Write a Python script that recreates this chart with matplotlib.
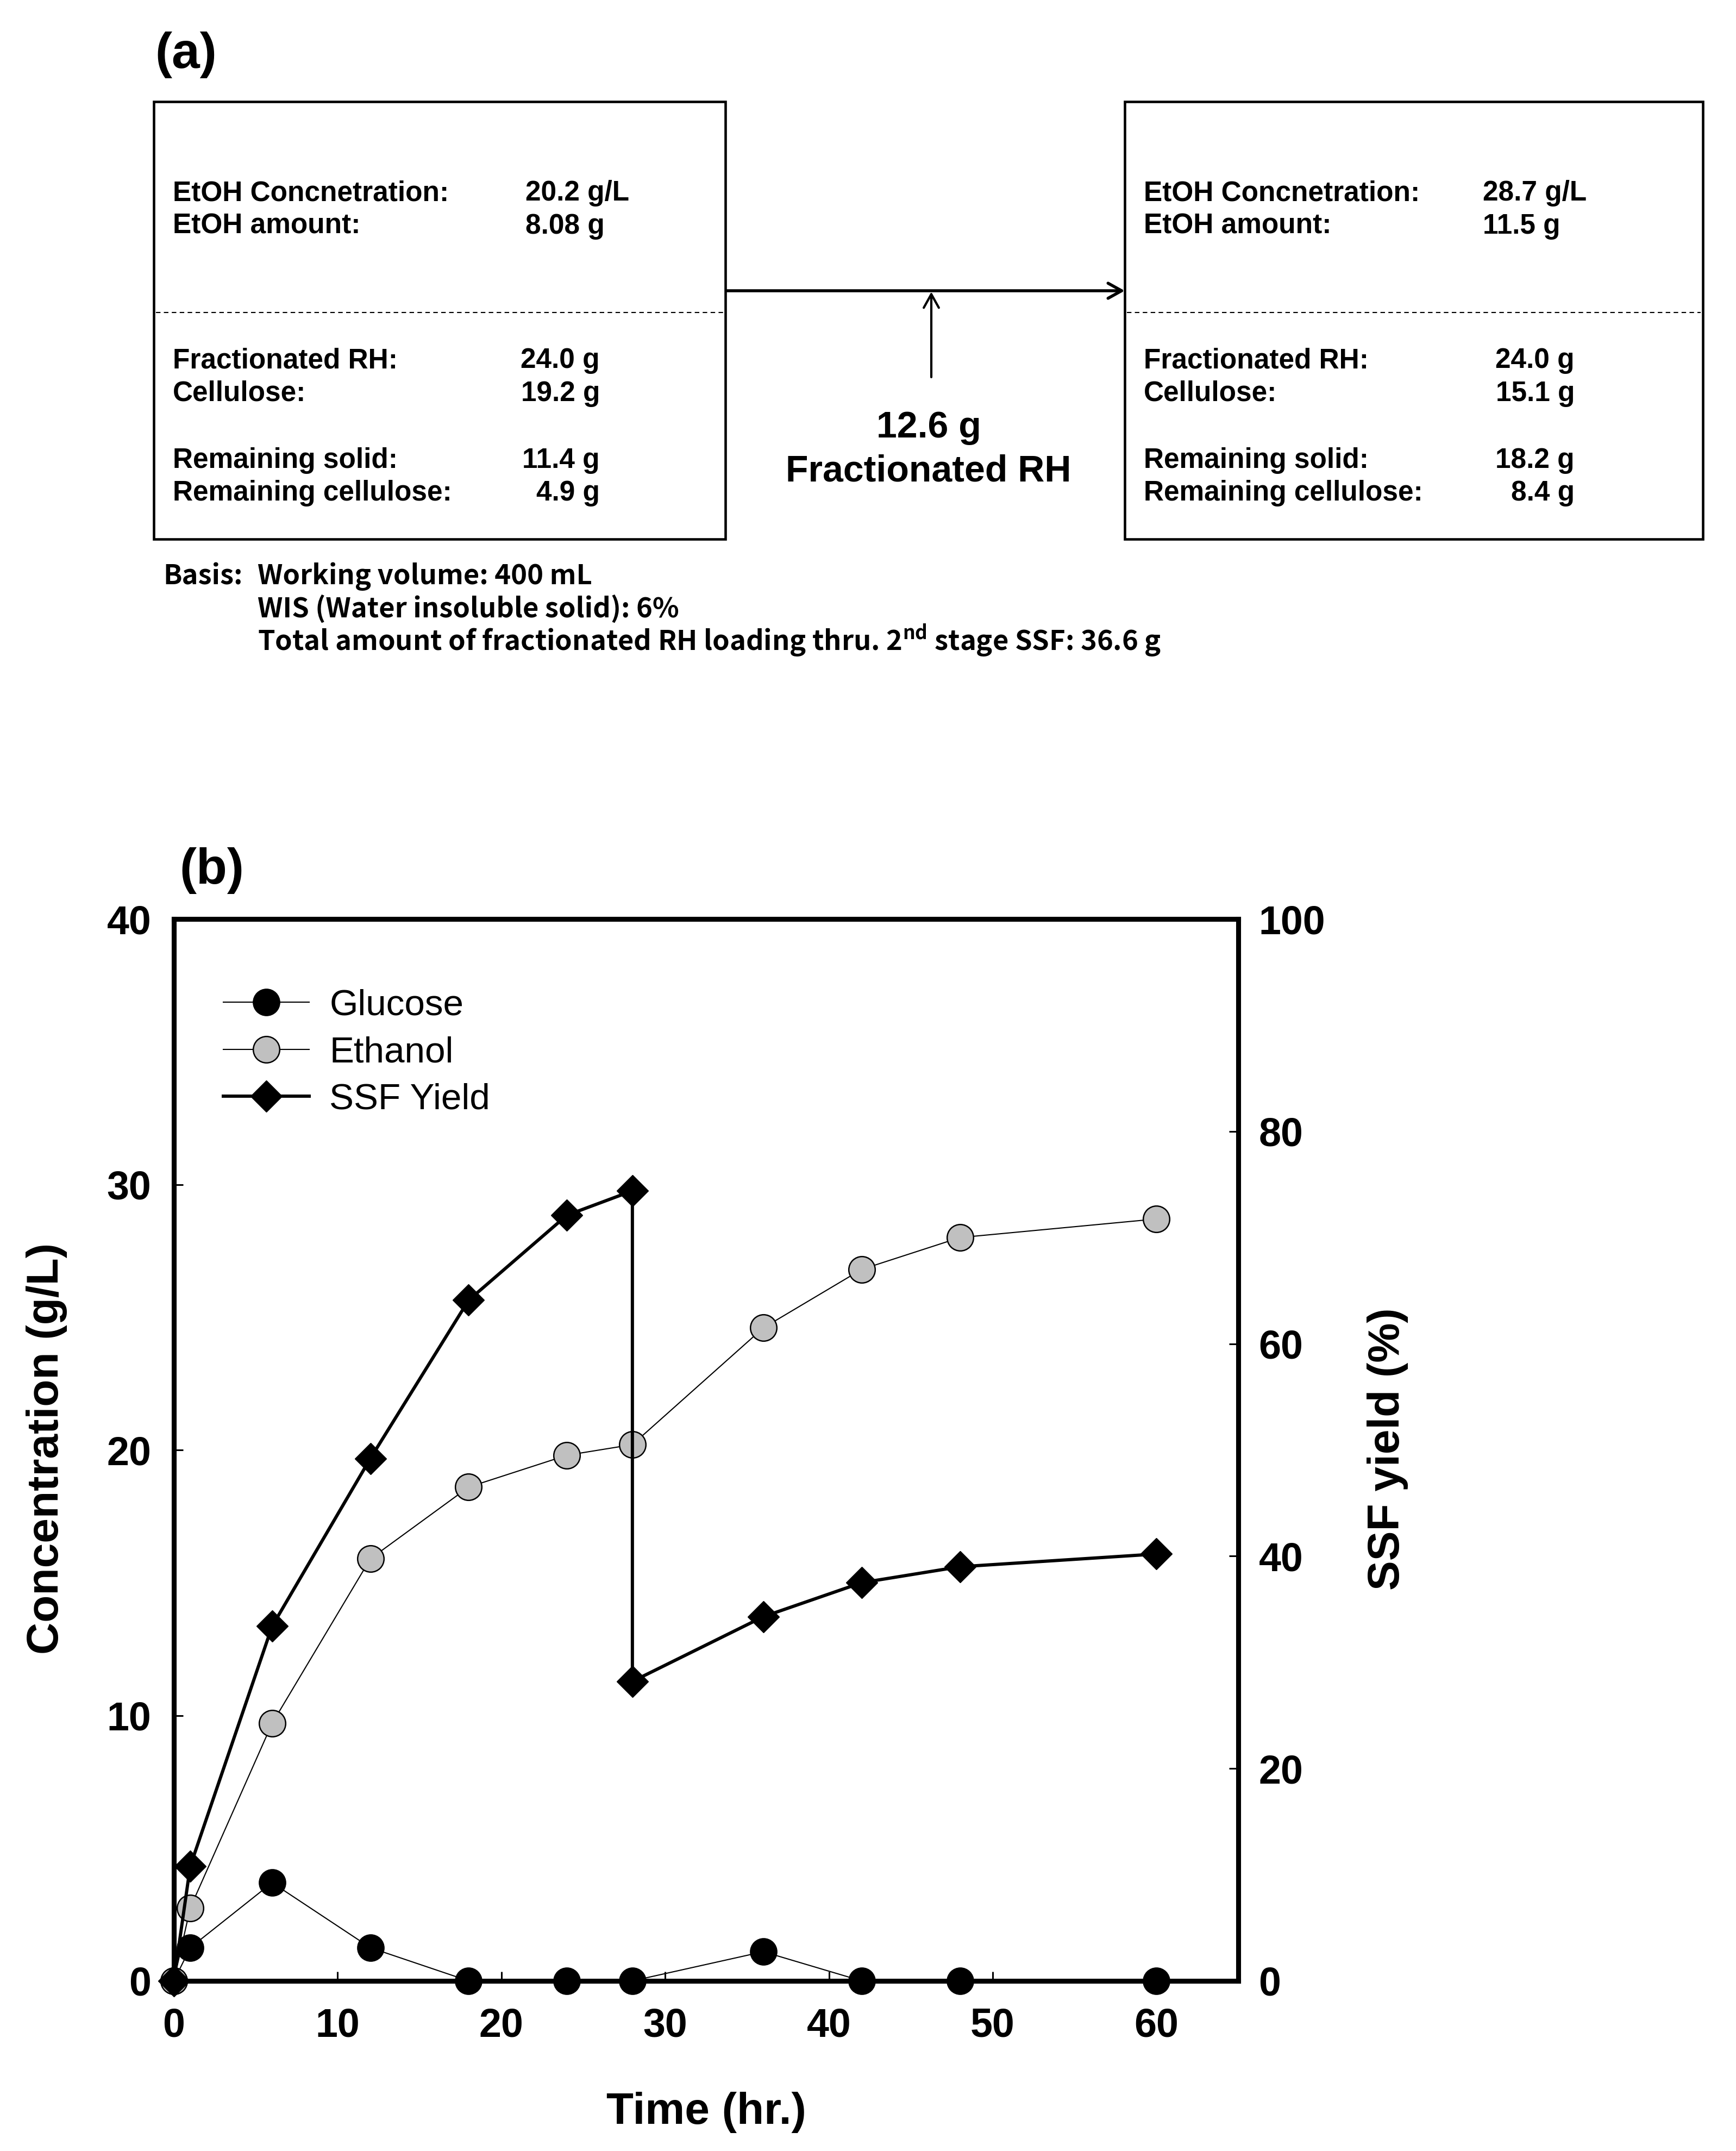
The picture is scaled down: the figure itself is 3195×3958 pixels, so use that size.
import matplotlib
matplotlib.use('Agg')
import matplotlib.pyplot as plt
from matplotlib.patches import Rectangle

plt.rcParams['font.family'] = ['Liberation Sans', 'DejaVu Sans']
plt.rcParams['font.weight'] = 'bold'
plt.rcParams['mathtext.fontset'] = 'custom'
plt.rcParams['mathtext.rm'] = 'Noto Sans CJK KR:bold'
plt.rcParams['mathtext.bf'] = 'Noto Sans CJK KR:bold'

# ---- panel (a) contents
stage_labels = ['EtOH Concnetration:', 'EtOH amount:', 'Fractionated RH:', 'Cellulose:',
                'Remaining solid:', 'Remaining cellulose:']
stage1_values = ['20.2 g/L', '8.08 g', '24.0 g', '19.2 g', '11.4 g', '4.9 g']
stage2_values = ['28.7 g/L', '11.5 g', '24.0 g', '15.1 g', '18.2 g', '8.4 g']
feed_text = ['12.6 g', 'Fractionated RH']
basis_head = 'Basis:'
basis_lines = ['Working volume: 400 mL',
               'WIS (Water insoluble solid): 6%',
               r'Total amount of fractionated RH loading thru. 2$^{\mathrm{nd}}$ stage SSF: 36.6 g']

# ---- panel (b) data
time = [0, 1, 6, 12, 18, 24, 28, 36, 42, 48, 60]
glucose = [0, 1.25, 3.7, 1.25, 0, 0, 0, 1.1, 0, 0, 0]
ethanol = [0, 2.75, 9.7, 15.9, 18.6, 19.8, 20.2, 24.6, 26.8, 28.0, 28.7]
yield_time = [0, 1, 6, 12, 18, 24, 28, 28, 36, 42, 48, 60]
ssf_yield = [0, 10.8, 33.4, 49.2, 64.1, 72.1, 74.4, 28.2, 34.3, 37.5, 39.0, 40.2]
x_ticks = [0, 10, 20, 30, 40, 50, 60]
conc_ticks = [0, 10, 20, 30, 40]
yield_ticks = [0, 20, 40, 60, 80, 100]

W, H = 3195, 3958
fig = plt.figure(figsize=(W / 100, H / 100), dpi=100)

# overlay in pixel coords for the flow diagram
ax0 = fig.add_axes([0, 0, 1, 1])
ax0.set_xlim(0, W)
ax0.set_ylim(H, 0)
ax0.axis('off')

box_lw = 3.3
row_base = [369, 430, 677, 738, 861, 921]
for (x0, x1, col_up, col_low), vals in zip([(283, 1335, 967, 1104), (2070, 3134, 2729, 2898)],
                                          [stage1_values, stage2_values]):
    ax0.add_patch(Rectangle((x0, 187), x1 - x0, 992 - 187, fill=False, lw=box_lw, ec='black'))
    ax0.plot([x0 + 4, x1 - 4], [575, 575], color='black', lw=1.5, ls=(0, (4, 3)))
    for i, (lab, val) in enumerate(zip(stage_labels, vals)):
        ax0.text(x0 + 35, row_base[i], lab, fontsize=37, va='baseline', ha='left')
        if i < 2:
            ax0.text(col_up, row_base[i], val, fontsize=37, va='baseline', ha='left')
        else:
            ax0.text(col_low, row_base[i], val, fontsize=37, va='baseline', ha='right')

ax0.annotate('', xy=(2070, 535), xytext=(1338, 535),
             arrowprops=dict(arrowstyle='->,head_length=0.45,head_width=0.25', lw=4,
                             color='black', shrinkA=0, shrinkB=0, mutation_scale=40))
ax0.annotate('', xy=(1714, 537), xytext=(1714, 694),
             arrowprops=dict(arrowstyle='->,head_length=0.45,head_width=0.25', lw=3,
                             color='black', shrinkA=0, shrinkB=0, mutation_scale=40))
ax0.text(1709, 805, feed_text[0], fontsize=49, ha='center', va='baseline')
ax0.text(1709, 886, feed_text[1], fontsize=49, ha='center', va='baseline')

ax0.text(300, 1075, basis_head, fontsize=36.5, family='Noto Sans CJK KR', va='baseline')
for i, line in enumerate(basis_lines):
    ax0.text(474, 1075 + 61 * i, line, fontsize=36.5, family='Noto Sans CJK KR', va='baseline')

ax0.text(285, 101, '(a)', fontsize=67, ha='left', va='center')
ax0.text(330, 1602, '(b)', fontsize=67, ha='left', va='center')

# ---- panel (b) chart
ax = fig.add_axes([320 / W, 1 - 3645 / H, (2279 - 320) / W, (3645 - 1691) / H])
ax.set_xlim(0, 65)
ax.set_ylim(0, 40)
ax2 = ax.twinx()
ax2.set_ylim(0, 100)

l1, = ax.plot(time, glucose, '-o', color='black', lw=1.5, ms=35, mfc='black', mec='black',
              mew=1.5, clip_on=False, label='Glucose', zorder=3)
l2, = ax.plot(time, ethanol, '-o', color='black', lw=1.5, ms=35, mfc='#c0c0c0', mec='black',
              mew=1.8, clip_on=False, label='Ethanol', zorder=3)
l3, = ax2.plot(yield_time, ssf_yield, '-D', color='black', lw=4.3, ms=30, mfc='black',
               mec='black', clip_on=False, label='SSF Yield', zorder=3)

ax.set_xticks(x_ticks)
ax.set_yticks(conc_ticks)
ax2.set_yticks(yield_ticks)
for a in (ax, ax2):
    for s in a.spines.values():
        s.set_linewidth(6.5)
ax.tick_params(axis='both', direction='in', length=12, width=2.2, labelsize=53)
ax.tick_params(axis='y', pad=30)
ax.tick_params(axis='x', pad=35)
ax2.tick_params(axis='y', direction='in', length=12, width=2.2, labelsize=53, pad=27)

fig.text(86 / W, 1 - 2665 / H, 'Concentration (g/L)', rotation=90, ha='center', va='center', fontsize=59)
fig.text(2554 / W, 1 - 2666 / H, 'SSF yield (%)', rotation=90, ha='center', va='center', fontsize=59)
fig.text(1300 / W, 1 - 3887 / H, 'Time (hr.)', ha='center', va='center', fontsize=59)

ax2.legend([l1, l2, l3], ['Glucose', 'Ethanol', 'SSF Yield'], loc='upper left',
           bbox_to_anchor=(0.0465, 0.934), frameon=False, borderpad=0, borderaxespad=0,
           handlelength=2.35, handletextpad=0.55, labelspacing=0.36,
           prop=dict(family='Liberation Sans', weight='normal', size=48.5))

fig.savefig('out.png', dpi=100)
